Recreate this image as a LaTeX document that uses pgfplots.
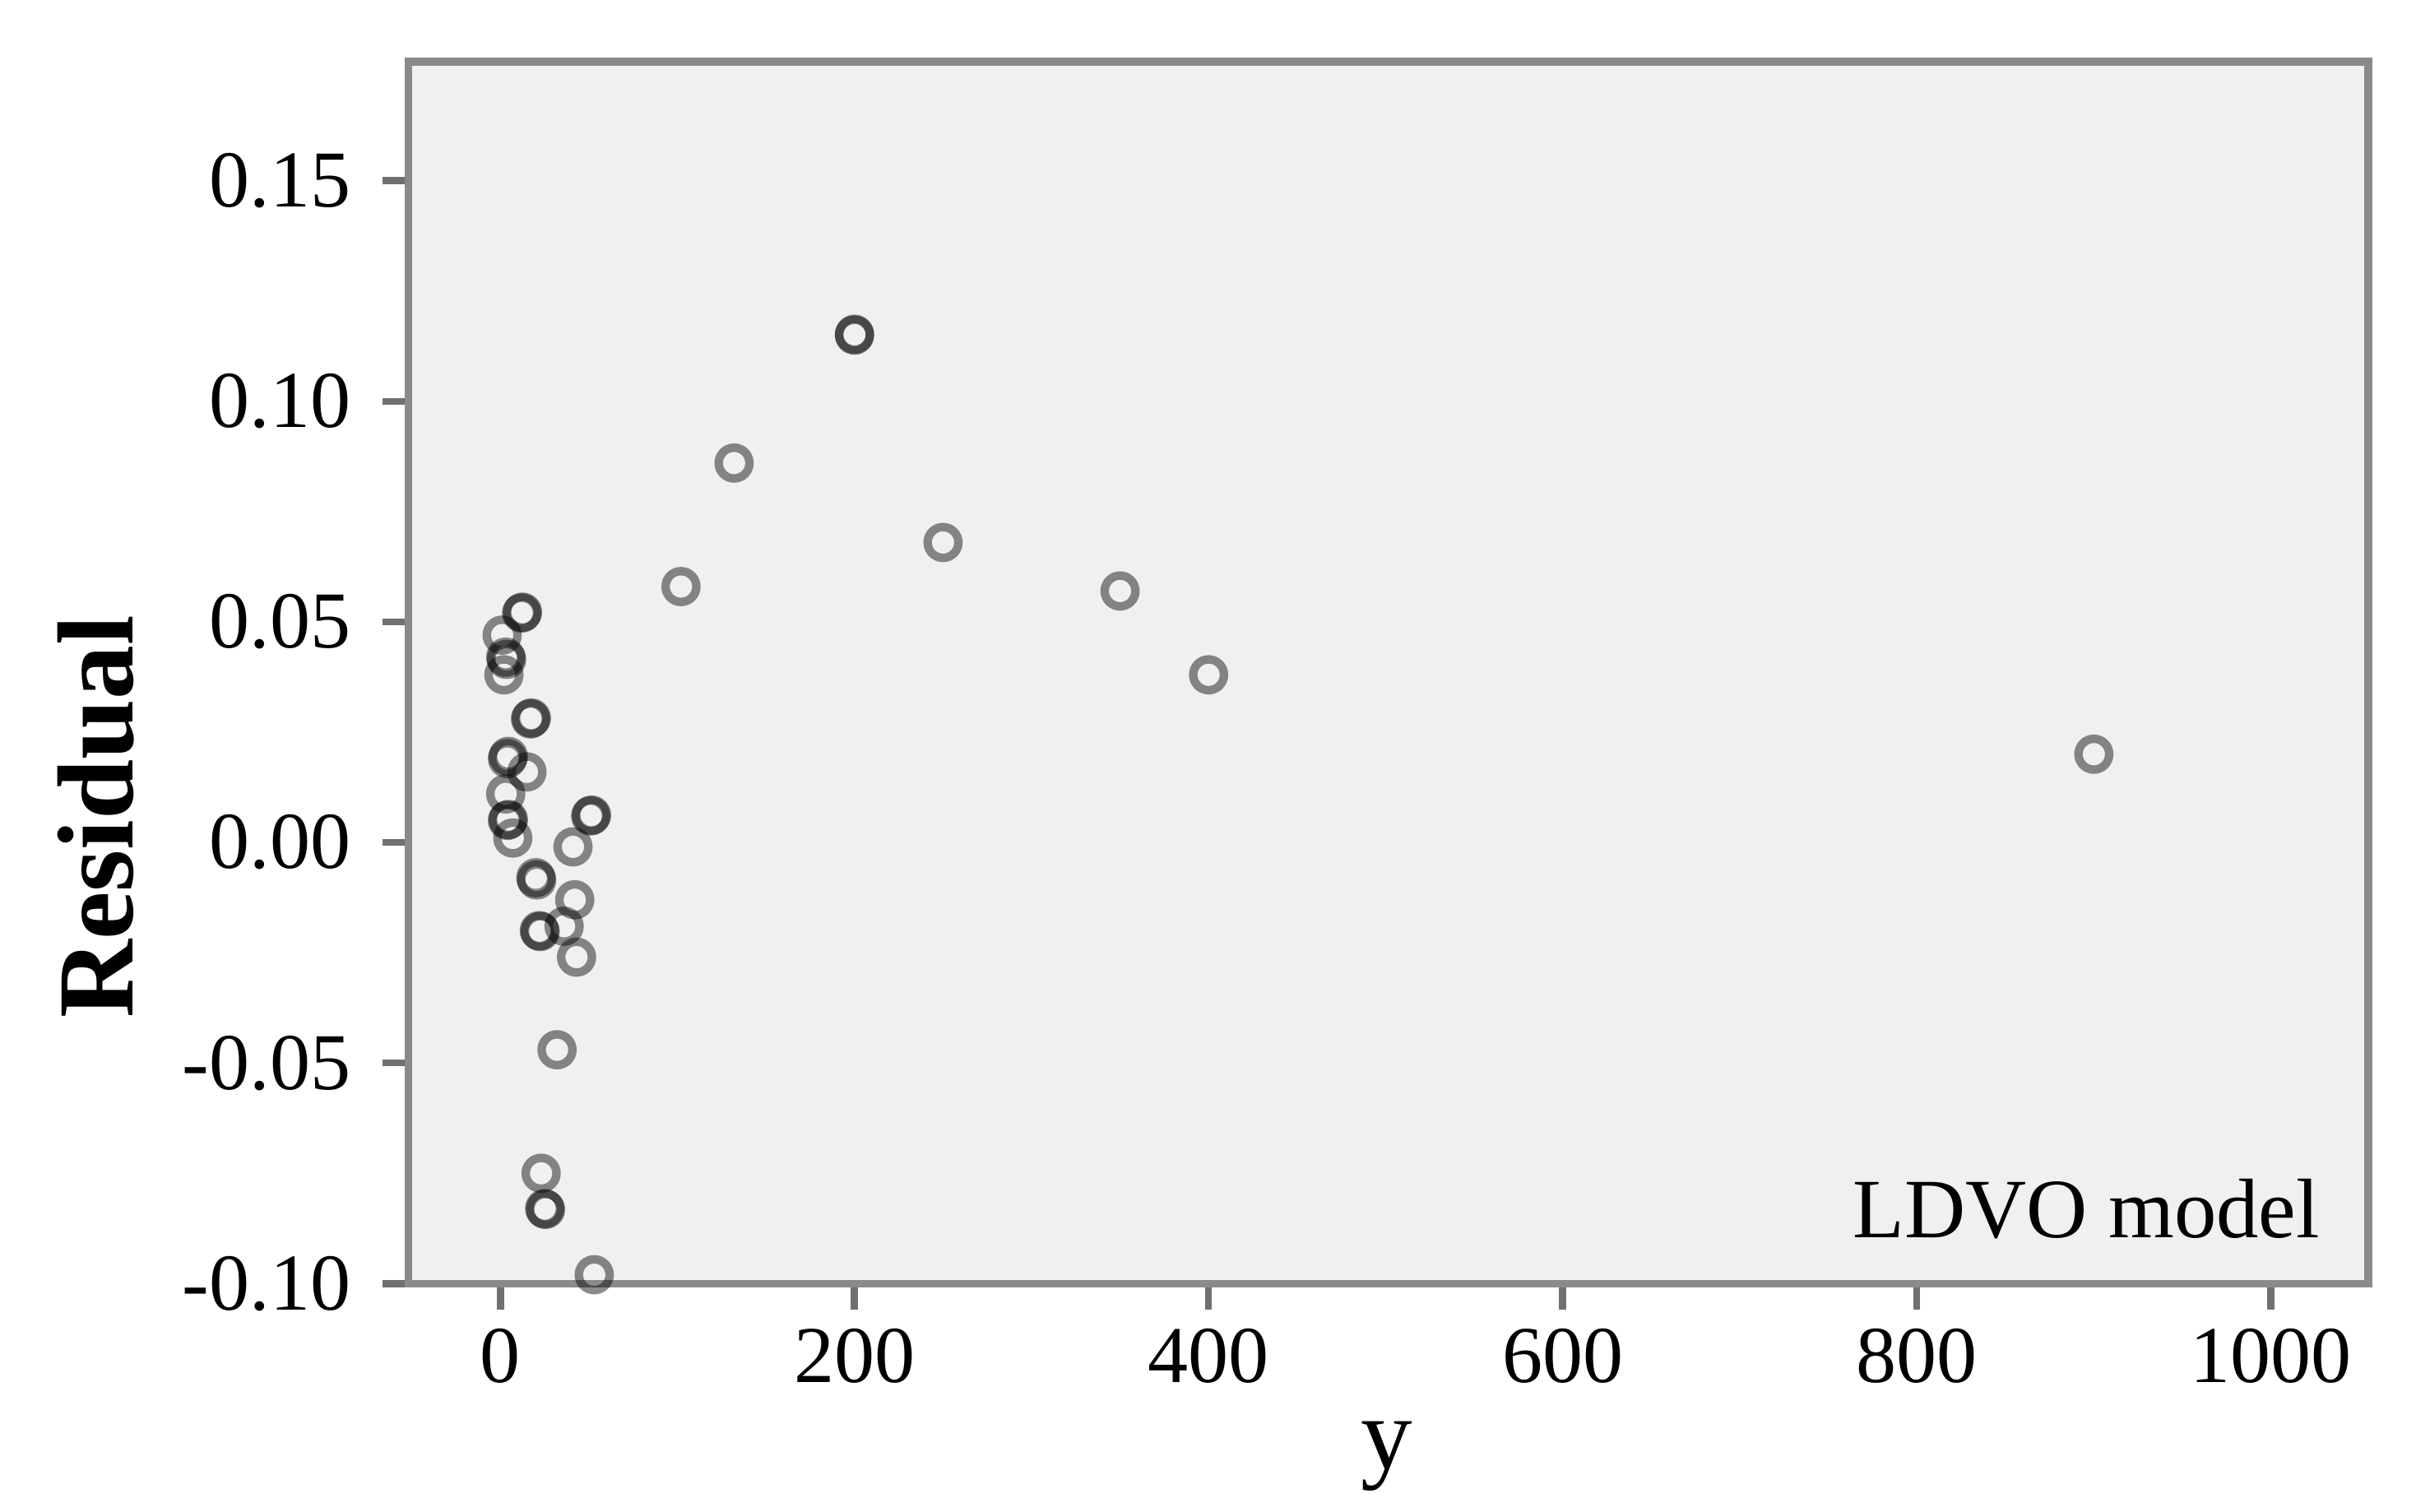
\documentclass[border=0pt]{standalone}
\usepackage{pgfplots}
\pgfplotsset{compat=1.18}
\usepackage{fontspec}
\setmainfont{Liberation Serif}
\definecolor{bgc}{HTML}{F0F0F0}
\definecolor{framec}{HTML}{8A8A8A}
\definecolor{axc}{HTML}{707070}
\begin{document}
\begin{tikzpicture}
\path (0,0) rectangle (15.68cm,9.81cm);
\begin{axis}[
  at={(2.65cm,1.48cm)}, anchor=south west,
  scale only axis, width=12.72cm, height=7.93cm,
  xmin=-52, xmax=1055, ymin=-0.10, ymax=0.177,
  axis background/.style={fill=bgc},
  axis line style={framec, line width=1.4pt},
  xtick={0,200,400,600,800,1000},
  xticklabels={0,200,400,600,800,1000},
  ytick={-0.10,-0.05,0,0.05,0.10,0.15},
  yticklabels={-0.10,-0.05,0.00,0.05,0.10,0.15},
  tick align=outside, tick pos=left,
  major tick length=0.17cm,
  tick style={axc, line width=1.3pt},
  ticklabel style={font=\fontsize{14.9}{16}\selectfont},
  xticklabel style={yshift=0.0cm},
  yticklabel style={xshift=-0.08cm},
  clip=false,
]
\addplot[only marks, mark=o, mark size=0.1cm,
  mark options={draw=black, draw opacity=0.45, line width=0.055cm}]
  coordinates {
  (200,0.115) (200,0.1152)
  (132,0.086) (250,0.068) (102,0.058) (350,0.057) (400,0.038) (900,0.020)
  (12,0.052) (12.5,0.0522)
  (1,0.047)
  (3,0.042) (3.5,0.0415)
  (2,0.038)
  (17,0.028) (17.5,0.0282)
  (4,0.019) (4.5,0.0195)
  (15,0.016)
  (3,0.011)
  (4,0.005) (4.5,0.0052)
  (7,0.001)
  (51,0.006) (51.5,0.0062)
  (41,-0.001)
  (20,-0.008) (20.5,-0.0085)
  (42,-0.013)
  (22,-0.020) (22.5,-0.0202)
  (36,-0.019)
  (43,-0.026)
  (32,-0.047)
  (23,-0.075)
  (25,-0.083) (25.5,-0.0832)
  (53,-0.098)
  };
\end{axis}
\node[rotate=90, font=\fontsize{20}{24}\selectfont\bfseries] at (0.62cm,4.51cm) {Residual};
\node[anchor=base, font=\fontsize{19}{22}\selectfont] at (9.0cm,0.28cm) {y};
\node[anchor=base east, font=\fontsize{15.6}{18}\selectfont] at (15.18cm,1.78cm) {LDVO model};
\end{tikzpicture}
\end{document}
